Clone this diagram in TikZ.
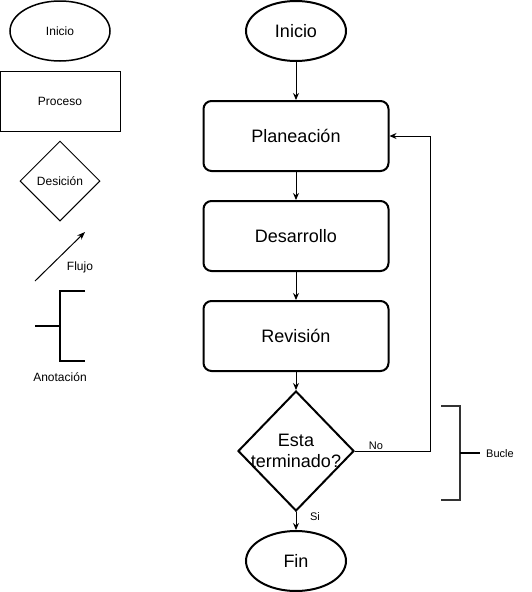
\documentclass[tikz,border=0pt]{standalone}
\usepackage{fontspec}
\setmainfont{Liberation Sans}
\usetikzlibrary{shapes.geometric,arrows.meta}
\begin{document}
\begin{tikzpicture}[x=1pt,y=-1pt,
  thin box/.style={draw,line width=1pt,inner sep=0pt,font=\fontsize{12}{14}\selectfont},
  main box/.style={draw,line width=2pt,rounded corners=8pt,minimum width=185pt,minimum height=70pt,inner sep=0pt,font=\fontsize{18}{21}\selectfont},
  main ell/.style={draw,line width=2pt,ellipse,minimum width=100pt,minimum height=60pt,inner sep=0pt,font=\fontsize{18}{21}\selectfont},
  conn/.style={line width=1pt,-{Stealth[length=7pt,width=6pt]}},
  lbl/.style={inner sep=0pt,font=\fontsize{12}{14}\selectfont},
  small/.style={inner sep=0pt,font=\fontsize{11}{13}\selectfont}]
\useasboundingbox (0,0) rectangle (531,592);
% legend
\node[thin box,ellipse,minimum width=100pt,minimum height=60pt,line width=1.5pt] (lini) at (60,31) {Inicio};
\node[thin box,rectangle,minimum width=120pt,minimum height=60pt] (lproc) at (60,101) {Proceso};
\node[thin box,diamond,minimum width=80pt,minimum height=80pt] (ldec) at (60,181) {};
\node[lbl] (ldect) at (ldec.center) {Desición};
\coordinate (fa) at (35,281);
\coordinate (fb) at (85,232);
\draw[line width=1pt,-{Stealth[length=8pt,width=6pt]}] (fa) -- (fb);
\node[lbl] (lflujo) at (80,267) {Flujo};
\coordinate (at) at (85,291);
\coordinate (ab) at (85,361);
\coordinate (as) at (35,326);
\draw[line width=2pt] (at) -- (60,291) -- (60,361) -- (ab);
\draw[line width=2pt] (as) -- (60,326);
\node[lbl] (lanot) at (60,377) {Anotación};
% main flow
\node[main ell] (ini) at (296,31) {Inicio};
\node[main box] (plan) at (296,136) {Planeación};
\node[main box] (des) at (296,236) {Desarrollo};
\node[main box] (rev) at (296,336) {Revisión};
\node[draw,line width=2pt,diamond,minimum width=116pt,minimum height=120pt,inner sep=0pt] (dec) at (296,451) {};
\node[inner sep=0pt,align=center,font=\fontsize{18}{21}\selectfont] (dect) at (dec.center) {Esta\\terminado?};
\node[main ell] (fin) at (296,561) {Fin};
\draw[conn] (ini) -- (plan);
\draw[conn] (plan) -- (des);
\draw[conn] (des) -- (rev);
\draw[conn] (rev) -- (dec);
\draw[conn] (dec) -- (fin);
\draw[conn] (dec.east) -- (430,451) -- (430,136) -- (plan.east);
\node[small] (no) at (376,446) {No};
\node[small] (si) at (315,517) {Si};
% bucle bracket
\coordinate (bt) at (441,406);
\coordinate (bb) at (441,500);
\coordinate (bs) at (480,453);
\draw[line width=2pt,black!80] (bt) -- (460,406) -- (460,500) -- (bb);
\draw[line width=2pt] (460,453) -- (bs);
\node[small] (bucle) at (500,454) {Bucle};
\end{tikzpicture}
\end{document}
